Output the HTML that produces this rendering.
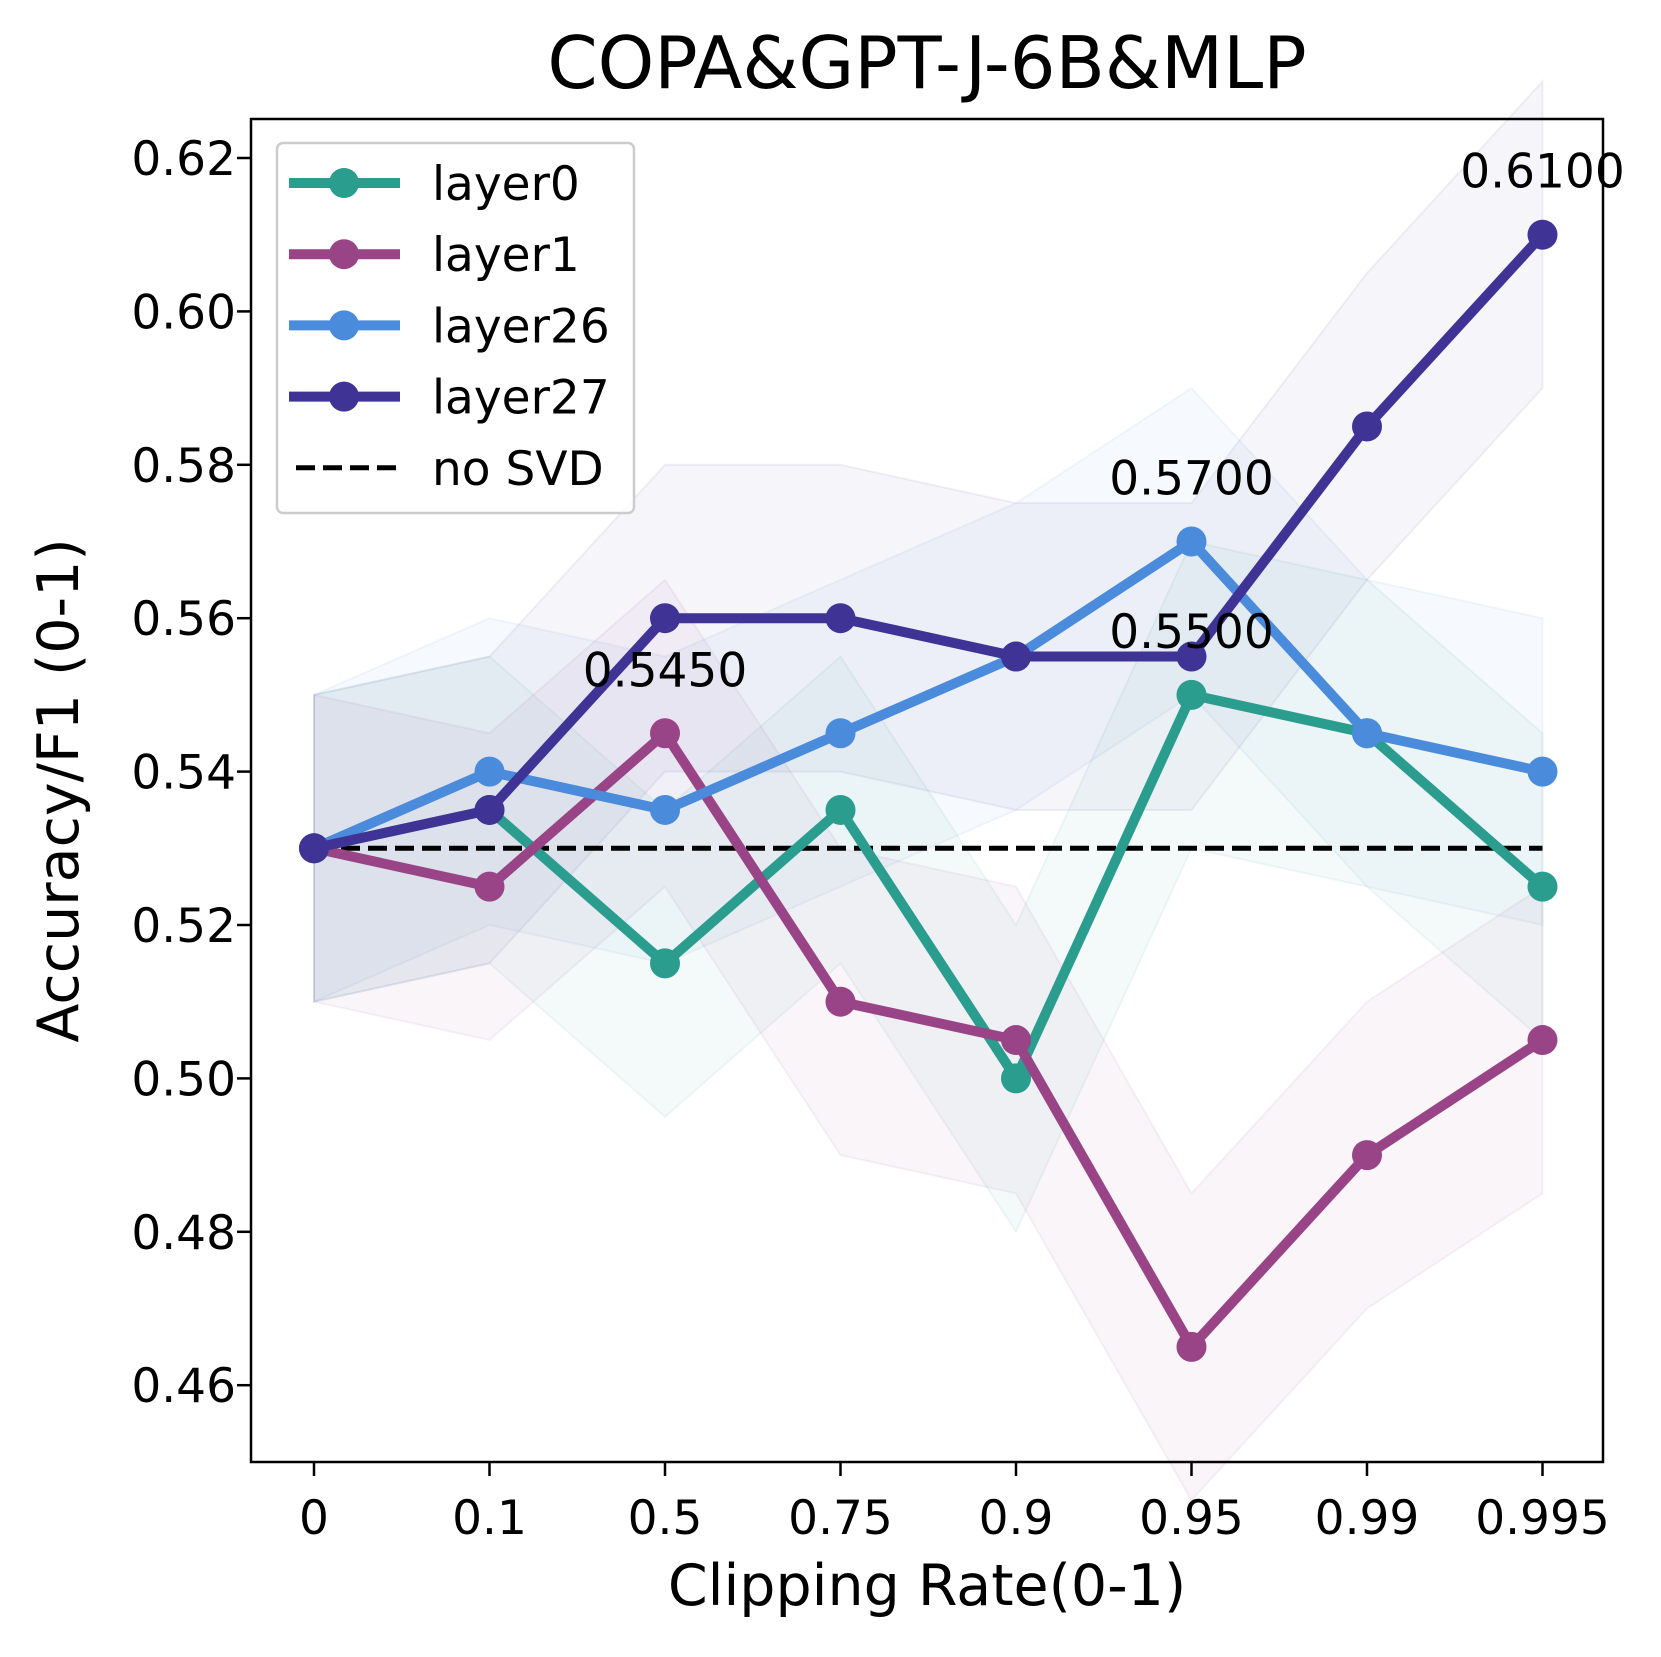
<!DOCTYPE html>
<html><head><meta charset="utf-8"><style>
body{margin:0;background:#fff}
svg text{font-family:"DejaVu Sans","Liberation Sans",sans-serif}
</style></head><body>
<svg id="chart" width="1661" height="1652" viewBox="0 0 1661 1652" xmlns="http://www.w3.org/2000/svg">
<rect width="1661" height="1652" fill="#fff"/>
<g id="bands"></g><g id="lines"></g><g id="annots"></g><g id="axes"></g><g id="legend"></g>
</svg>
<script>
const categories = ["0","0.1","0.5","0.75","0.9","0.95","0.99","0.995"];
const layer0 = [0.53,0.535,0.515,0.535,0.50,0.55,0.545,0.525];
const layer1 = [0.53,0.525,0.545,0.51,0.505,0.465,0.49,0.505];
const layer26 = [0.53,0.54,0.535,0.545,0.555,0.57,0.545,0.54];
const layer27 = [0.53,0.535,0.56,0.56,0.555,0.555,0.585,0.61];
const bandWidth = 0.02;
const baseline = 0.53;
const yTicks = [0.46,0.48,0.50,0.52,0.54,0.56,0.58,0.60,0.62];
const annotations = [[2,0.545,"0.5450"],[5,0.57,"0.5700"],[5,0.55,"0.5500"],[7,0.61,"0.6100"]];

const NS="http://www.w3.org/2000/svg";
const L=251,R=1603,T=119,B=1462;
const xs=i=>314+i*175.5;
const ys=v=>158+(0.62-v)*7670;
function mk(tag,attrs,parent){const e=document.createElementNS(NS,tag);for(const k in attrs)e.setAttribute(k,attrs[k]);parent.appendChild(e);return e;}
const series=[["layer0",layer0,"#2a9d8f"],["layer1",layer1,"#994487"],["layer26",layer26,"#4a8bdb"],["layer27",layer27,"#3f3396"]];
const bands=document.getElementById('bands'),lines=document.getElementById('lines');
series.forEach(([n,d,c])=>{
  const up=d.map((v,i)=>xs(i)+","+ys(v+bandWidth)).join(" ");
  const dn=d.map((v,i)=>xs(i)+","+ys(v-bandWidth)).reverse().join(" ");
  const p=mk('polygon',{points:up+" "+dn,fill:c,'fill-opacity':0.05,stroke:c,'stroke-opacity':0.07,'stroke-width':2},bands);
  
  
});
const dash=mk('line',{x1:xs(0),x2:xs(7),y1:ys(baseline),y2:ys(baseline),stroke:'#000','stroke-width':5,'stroke-dasharray':'19,8'},lines);


series.forEach(([n,d,c])=>{
  const pl=mk('polyline',{points:d.map((v,i)=>xs(i)+","+ys(v)).join(" "),fill:'none',stroke:c,'stroke-width':10,'stroke-linejoin':'round'},lines);
  
  
  d.forEach((v,i)=>{
    const m=mk('circle',{cx:xs(i),cy:ys(v),r:15,fill:c},lines);
    
    
  });
});
const an=document.getElementById('annots');
annotations.forEach(([i,v,t])=>{
  const e=mk('text',{x:xs(i),y:ys(v)-47,'text-anchor':'middle','font-size':47},an);
  e.textContent=t;
  
  
});
const ax=document.getElementById('axes');
const fr=mk('rect',{x:L,y:T,width:R-L,height:B-T,fill:'none',stroke:'#000','stroke-width':2.5},ax);


categories.forEach((c,i)=>{
  mk('line',{x1:xs(i),x2:xs(i),y1:B,y2:B+14,stroke:'#000','stroke-width':2.5},ax);
  const t=mk('text',{x:xs(i),y:B+72,'text-anchor':'middle','font-size':47},ax);
  t.textContent=c;
  
  
});
yTicks.forEach(v=>{
  mk('line',{x1:L-14,x2:L,y1:ys(v),y2:ys(v),stroke:'#000','stroke-width':2.5},ax);
  const t=mk('text',{x:L-15,y:ys(v)+17,'text-anchor':'end','font-size':47},ax);
  t.textContent=v.toFixed(2);
  
  
});
const title=mk('text',{x:(L+R)/2,y:88,'text-anchor':'middle','font-size':72},ax);
title.textContent="COPA&GPT-J-6B&MLP";


const xl=mk('text',{x:(L+R)/2,y:1605,'text-anchor':'middle','font-size':57},ax);
xl.textContent="Clipping Rate(0-1)";


const yl=mk('text',{x:0,y:0,'text-anchor':'middle','font-size':57,transform:'translate(78,'+((T+B)/2)+') rotate(-90)'},ax);
yl.textContent="Accuracy/F1 (0-1)";


const lg=document.getElementById('legend');
const box=mk('rect',{x:277,y:143,width:357,height:370,rx:6,fill:'#fff','fill-opacity':0.8,stroke:'#ccc','stroke-width':2.5},lg);


const entries=series.map(s=>[s[0],s[2],false]).concat([["no SVD","#000",true]]);
entries.forEach(([n,c,dsh],k)=>{
  const y=183+k*71.2;
  if(dsh){mk('line',{x1:296,x2:398,y1:y,y2:y,stroke:c,'stroke-width':5,'stroke-dasharray':'19,8'},lg);}
  else{mk('line',{x1:289,x2:400,y1:y,y2:y,stroke:c,'stroke-width':10},lg);mk('circle',{cx:344,cy:y,r:15,fill:c},lg);}
  const t=mk('text',{x:432,y:y+17,'font-size':47},lg);
  t.textContent=n;
  
  
});
</script>
</body></html>
